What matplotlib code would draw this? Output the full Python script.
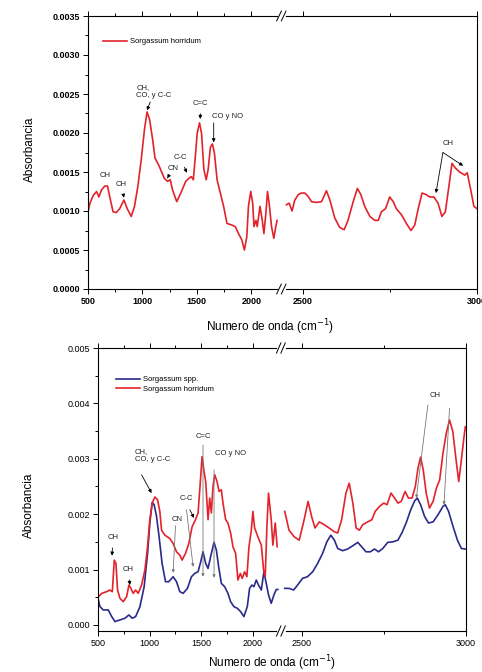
import numpy as np
import matplotlib.pyplot as plt
from matplotlib.ticker import FixedLocator, MultipleLocator, FormatStrFormatter

plt.rcParams["font.family"] = ["Liberation Sans", "DejaVu Sans"]

### ---------- data ---------- ###
# top panel, Sorgassum horridum (wavenumber / cm-1, absorbance)
top_wn_left = [500, 518, 548, 579, 600, 624, 654, 679, 700, 730, 760, 791, 830, 860,
               897, 927, 957, 988, 1018, 1042, 1066, 1094, 1115, 1155, 1200, 1230,
               1255, 1276, 1315, 1352, 1397, 1427, 1449, 1467, 1488, 1503, 1524, 1542,
               1564, 1585, 1603, 1624, 1642, 1661, 1685, 1715, 1745, 1776, 1821, 1852,
               1882, 1912, 1936, 1958, 1973, 1994, 2012, 2024, 2042, 2054, 2079, 2100,
               2115, 2133, 2148, 2163, 2185, 2206, 2224, 2236]
top_abs_left = [0.00099, 0.00110, 0.00120, 0.00125, 0.00118, 0.00127, 0.00132, 0.00132,
                0.00118, 0.00099, 0.00098, 0.00103, 0.00114, 0.00103, 0.00093, 0.00106,
                0.00131, 0.00165, 0.00204, 0.00227, 0.00217, 0.00191, 0.00168, 0.00157,
                0.00142, 0.00138, 0.00140, 0.00127, 0.00112, 0.00123, 0.00138, 0.00142,
                0.00144, 0.00140, 0.00174, 0.00200, 0.00213, 0.00200, 0.00153, 0.00140,
                0.00153, 0.00182, 0.00186, 0.00174, 0.00140, 0.00123, 0.00106, 0.00084,
                0.00082, 0.00080, 0.00071, 0.00063, 0.00050, 0.00067, 0.00106, 0.00125,
                0.00110, 0.00080, 0.00088, 0.00080, 0.00106, 0.00088, 0.00071, 0.00097,
                0.00125, 0.00110, 0.00080, 0.00065, 0.00080, 0.00088]
top_wn_right = [2452, 2460, 2468, 2476, 2486, 2495, 2505, 2514, 2524, 2538, 2553, 2567,
                2577, 2591, 2605, 2618, 2629, 2644, 2656, 2666, 2677, 2692, 2706, 2716,
                2725, 2737, 2749, 2759, 2768, 2783, 2797, 2810, 2821, 2830, 2842, 2854,
                2864, 2876, 2888, 2899, 2909, 2919, 2928, 2938, 2950, 2965, 2972, 2982,
                2991, 3000]
top_abs_right = [0.00108, 0.00110, 0.00100, 0.00114, 0.00121, 0.00123, 0.00123, 0.00119,
                 0.00112, 0.00111, 0.00112, 0.00126, 0.00114, 0.00091, 0.00079, 0.00076,
                 0.00088, 0.00112, 0.00129, 0.00121, 0.00106, 0.00093, 0.00088, 0.00088,
                 0.00099, 0.00103, 0.00118, 0.00112, 0.00103, 0.00095, 0.00084, 0.00075,
                 0.00082, 0.00101, 0.00123, 0.00121, 0.00118, 0.00118, 0.00110, 0.00093,
                 0.00099, 0.00131, 0.00161, 0.00155, 0.00150, 0.00146, 0.00149, 0.00127,
                 0.00106, 0.00103]

# bottom panel, Sorgassum horridum
hor_wn_left = [500, 536, 584, 616, 639, 658, 674, 690, 713, 745, 778, 800, 819, 842, 865,
               890, 923, 955, 981, 1003, 1026, 1052, 1078, 1100, 1117, 1149, 1197, 1229,
               1262, 1294, 1316, 1349, 1381, 1413, 1446, 1471, 1490, 1510, 1529, 1545,
               1568, 1584, 1600, 1616, 1633, 1655, 1675, 1697, 1713, 1739, 1761, 1787,
               1810, 1836, 1858, 1881, 1900, 1923, 1945, 1965, 1988, 2003, 2020, 2052,
               2085, 2107, 2123, 2139, 2155, 2181, 2197, 2220, 2239]
hor_abs_left = [0.00050, 0.00057, 0.00060, 0.00063, 0.00060, 0.00117, 0.00111, 0.00063,
                0.00048, 0.00042, 0.00051, 0.00072, 0.00066, 0.00057, 0.00063, 0.00057,
                0.00072, 0.00099, 0.00141, 0.00190, 0.00220, 0.00231, 0.00226, 0.00205,
                0.00171, 0.00162, 0.00156, 0.00147, 0.00132, 0.00126, 0.00117, 0.00129,
                0.00147, 0.00177, 0.00190, 0.00202, 0.00250, 0.00304, 0.00277, 0.00259,
                0.00190, 0.00229, 0.00202, 0.00250, 0.00271, 0.00259, 0.00241, 0.00244,
                0.00220, 0.00190, 0.00184, 0.00166, 0.00141, 0.00129, 0.00081, 0.00093,
                0.00084, 0.00096, 0.00087, 0.00141, 0.00171, 0.00205, 0.00175, 0.00159,
                0.00144, 0.00099, 0.00087, 0.00177, 0.00238, 0.00190, 0.00144, 0.00184,
                0.00141]
hor_wn_right = [2449, 2462, 2478, 2493, 2508, 2520, 2531, 2541, 2554, 2569, 2584, 2600,
                2610, 2622, 2635, 2645, 2656, 2666, 2676, 2686, 2701, 2714, 2724, 2737,
                2750, 2760, 2772, 2783, 2793, 2803, 2815, 2825, 2836, 2846, 2854, 2862,
                2870, 2879, 2889, 2900, 2910, 2920, 2930, 2940, 2950, 2960, 2971, 2978,
                2986, 2994, 2998]
hor_abs_right = [0.00205, 0.00171, 0.00159, 0.00153, 0.00190, 0.00223, 0.00195, 0.00175,
                 0.00186, 0.00181, 0.00175, 0.00168, 0.00166, 0.00190, 0.00238, 0.00256,
                 0.00220, 0.00175, 0.00171, 0.00181, 0.00186, 0.00190, 0.00205, 0.00214,
                 0.00220, 0.00217, 0.00238, 0.00229, 0.00220, 0.00223, 0.00241, 0.00229,
                 0.00229, 0.00250, 0.00283, 0.00303, 0.00280, 0.00238, 0.00211, 0.00223,
                 0.00247, 0.00262, 0.00310, 0.00346, 0.00370, 0.00349, 0.00292, 0.00259,
                 0.00298, 0.00340, 0.00358]

# bottom panel, Sorgassum spp.
spp_wn_left = [500, 519, 551, 600, 633, 665, 713, 761, 800, 832, 865, 907, 948, 981, 1003,
               1026, 1045, 1068, 1093, 1122, 1155, 1187, 1229, 1262, 1294, 1326, 1368,
               1407, 1439, 1471, 1497, 1519, 1545, 1568, 1600, 1626, 1649, 1671, 1697,
               1729, 1761, 1787, 1819, 1852, 1884, 1916, 1949, 1971, 1994, 2013, 2036,
               2058, 2085, 2110, 2133, 2155, 2181, 2207, 2230, 2245]
spp_abs_left = [0.00048, 0.00033, 0.00027, 0.00027, 0.00015, 0.00006, 0.00009, 0.00012,
                0.00018, 0.00012, 0.00015, 0.00033, 0.00069, 0.00129, 0.00184, 0.00221,
                0.00217, 0.00196, 0.00159, 0.00111, 0.00078, 0.00078, 0.00087, 0.00078,
                0.00060, 0.00057, 0.00066, 0.00087, 0.00093, 0.00096, 0.00114, 0.00132,
                0.00111, 0.00102, 0.00129, 0.00149, 0.00135, 0.00105, 0.00075, 0.00069,
                0.00057, 0.00042, 0.00033, 0.00030, 0.00024, 0.00015, 0.00033, 0.00066,
                0.00072, 0.00069, 0.00081, 0.00072, 0.00063, 0.00096, 0.00075, 0.00054,
                0.00039, 0.00054, 0.00064, 0.00064]
spp_wn_right = [2449, 2462, 2476, 2488, 2503, 2518, 2534, 2549, 2564, 2577, 2589, 2600,
                2610, 2625, 2640, 2656, 2671, 2683, 2696, 2709, 2722, 2734, 2747, 2762,
                2778, 2793, 2805, 2818, 2832, 2844, 2852, 2862, 2874, 2886, 2900, 2915,
                2930, 2937, 2947, 2961, 2974, 2986, 2998]
spp_abs_right = [0.00066, 0.00066, 0.00063, 0.00072, 0.00084, 0.00087, 0.00096, 0.00111,
                 0.00129, 0.00150, 0.00162, 0.00153, 0.00138, 0.00134, 0.00137, 0.00143,
                 0.00149, 0.00141, 0.00132, 0.00132, 0.00137, 0.00132, 0.00138, 0.00149,
                 0.00150, 0.00153, 0.00166, 0.00184, 0.00208, 0.00224, 0.00229, 0.00217,
                 0.00196, 0.00184, 0.00186, 0.00199, 0.00214, 0.00217, 0.00205, 0.00177,
                 0.00153, 0.00138, 0.00137]

xticks_major = [500, 1000, 1500, 2000, 2500, 3000]
xticks_minor = [750, 1250, 1750, 2750]
### ----------------------------------------------- ###

RED = "#e3232b"
BLUE = "#2a2a8c"

# piecewise linear x-scale: 500-2250 compressed, gap, 2440-3000 stretched
_xp = [0, 500, 2250, 2440, 3000, 4000]
_fp = [-0.14, 0.0, 0.49, 0.4994, 1.0, 1.894]


def fwd(x):
    return np.interp(x, _xp, _fp)


def inv(u):
    return np.interp(u, _fp, _xp)


def setup_axes(ax, ylim, ymaj, ymin, yfmt, bold):
    ax.set_xscale("function", functions=(fwd, inv))
    ax.set_xlim(500, 3000)
    ax.set_ylim(*ylim)
    ax.xaxis.set_major_locator(FixedLocator(xticks_major))
    ax.xaxis.set_minor_locator(FixedLocator(xticks_minor))
    ax.xaxis.set_major_formatter(FormatStrFormatter("%d"))
    ax.yaxis.set_major_locator(MultipleLocator(ymaj))
    ax.yaxis.set_minor_locator(MultipleLocator(ymin))
    ax.yaxis.set_major_formatter(FormatStrFormatter(yfmt))
    ax.tick_params(which="both", direction="out", top=True, right=False, width=0.7,
                   labelsize=6.5, pad=2)
    ax.tick_params(which="major", length=3.5)
    ax.tick_params(which="minor", length=2)
    weight = "bold" if bold else "normal"
    for lab in ax.get_xticklabels() + ax.get_yticklabels():
        lab.set_fontweight(weight)
    for sp in ax.spines.values():
        sp.set_linewidth(0.8)
    # break marks "//" on top and bottom spines
    for yb in (0, 1):
        ax.plot([0.490, 0.505], [yb, yb], transform=ax.transAxes, color="white",
                lw=2, clip_on=False, zorder=5)
        for dx in (-0.006, 0.006):
            ax.plot([0.497 + dx - 0.006, 0.497 + dx + 0.006], [yb - 0.018, yb + 0.018],
                    transform=ax.transAxes, color="k", lw=0.7, clip_on=False, zorder=6)


fig = plt.figure(figsize=(4.82, 6.72), dpi=100)
ax0 = fig.add_axes([88 / 482, 1 - 289 / 672, 389 / 482, 273 / 672])
ax1 = fig.add_axes([98 / 482, 1 - 631 / 672, 368 / 482, 283 / 672])

### ---------- top panel ---------- ###
l0, = ax0.plot(top_wn_left, top_abs_left, color=RED, lw=1.2)
ax0.plot(top_wn_right, top_abs_right, color=RED, lw=1.2)
setup_axes(ax0, (0, 0.0035), 0.0005, 0.00025, "%.4f", True)
ax0.legend([l0], ["Sorgassum horridum"], loc="upper left", bbox_to_anchor=(0.02, 0.945),
           frameon=False, fontsize=5.5, handlelength=3.2, handletextpad=0.4)
ax0.set_ylabel("Absorbancia", fontsize=8.5)
ax0.yaxis.set_label_coords(-0.135, 0.51)
ax0.set_xlabel("Numero de onda (cm$^{-1}$)", fontsize=8.5)
ax0.xaxis.set_label_coords(0.468, -0.105)

arrow_k = dict(arrowstyle="-|>", color="k", lw=0.6, mutation_scale=5, shrinkA=3, shrinkB=0)

ax0.text(655, 0.00146, "CH", ha="center", va="center", fontsize=5.5, color="#222222")
ax0.annotate("CH", xy=(830, 0.00117), xytext=(806, 0.00134), ha="center", va="center",
             fontsize=5.5, color="#222222", arrowprops=arrow_k)
ax0.annotate("CH,\nCO, y C-C", xy=(1042, 0.00229), xytext=(945, 0.00253), ha="left",
             va="center", fontsize=5.5, color="#222222",
             arrowprops=dict(arrow_k, shrinkA=0))
ax0.annotate("CN", xy=(1228, 0.00142), xytext=(1282, 0.00155), ha="center", va="center",
             fontsize=5.5, color="#222222", arrowprops=arrow_k)
ax0.annotate("C-C", xy=(1408, 0.00149), xytext=(1345, 0.00169), ha="center", va="center",
             fontsize=5.5, color="#222222", arrowprops=arrow_k)
ax0.annotate("C=C", xy=(1530, 0.00218), xytext=(1536, 0.00238), ha="center", va="center",
             fontsize=5.5, color="#222222", arrowprops=arrow_k)
ax0.text(1636, 0.00221, "CO y NO", ha="left", va="center", fontsize=5.5, color="#222222")
ax0.annotate("", xy=(1654, 0.00188), xytext=(1654, 0.00213),
             arrowprops=dict(arrow_k, shrinkA=0))
ax0.text(2917, 0.00187, "CH", ha="center", va="center", fontsize=5.5, color="#222222")
for tip in [(2882, 0.00123), (2960, 0.00158)]:
    ax0.annotate("", xy=tip, xytext=(2902, 0.00175), arrowprops=dict(arrow_k, shrinkA=0))

### ---------- bottom panel ---------- ###
l1, = ax1.plot(spp_wn_left, spp_abs_left, color=BLUE, lw=1.2)
ax1.plot(spp_wn_right, spp_abs_right, color=BLUE, lw=1.2)
l2, = ax1.plot(hor_wn_left, hor_abs_left, color=RED, lw=1.2)
ax1.plot(hor_wn_right, hor_abs_right, color=RED, lw=1.2)
setup_axes(ax1, (-0.00011, 0.005), 0.001, 0.0005, "%.3f", False)
ax1.legend([l1, l2], ["Sorgassum spp.", "Sorgassum horridum"], loc="upper left",
           bbox_to_anchor=(0.03, 0.925), frameon=False, fontsize=5.5, handlelength=3.2,
           handletextpad=0.4, labelspacing=0.25)
ax1.set_ylabel("Absorbancia", fontsize=8.5)
ax1.yaxis.set_label_coords(-0.17, 0.445)
ax1.set_xlabel("Numero de onda (cm$^{-1}$)", fontsize=8.5)
ax1.xaxis.set_label_coords(0.473, -0.08)

grey = dict(arrowstyle="-|>", color="#777777", lw=0.6, mutation_scale=4,
            shrinkA=0, shrinkB=0)

ax1.annotate("CH", xy=(636, 0.00125), xytext=(645, 0.00158), ha="center", va="center",
             fontsize=5.5, color="#222222", arrowprops=arrow_k)
ax1.annotate("CH", xy=(810, 0.00072), xytext=(790, 0.00100), ha="center", va="center",
             fontsize=5.5, color="#222222", arrowprops=arrow_k)
ax1.text(858, 0.00305, "CH,\nCO, y C-C", ha="left", va="center", fontsize=5.5,
         color="#222222")
ax1.annotate("", xy=(1020, 0.00238), xytext=(923, 0.00271),
             arrowprops=dict(arrow_k, shrinkA=0))
ax1.text(1271, 0.00190, "CN", ha="center", va="center", fontsize=5.5, color="#222222")
ax1.annotate("", xy=(1229, 0.00094), xytext=(1252, 0.00179), arrowprops=grey)
ax1.text(1359, 0.00229, "C-C", ha="center", va="center", fontsize=5.5, color="#222222")
ax1.annotate("", xy=(1432, 0.00193), xytext=(1391, 0.00208),
             arrowprops=dict(arrow_k, shrinkA=0))
ax1.annotate("", xy=(1423, 0.00105), xytext=(1359, 0.00208), arrowprops=grey)
ax1.text(1519, 0.00340, "C=C", ha="center", va="center", fontsize=5.5, color="#222222")
ax1.annotate("", xy=(1519, 0.00087), xytext=(1519, 0.00325), arrowprops=grey)
ax1.text(1633, 0.00310, "CO y NO", ha="left", va="center", fontsize=5.5, color="#222222")
ax1.annotate("", xy=(1626, 0.00085), xytext=(1626, 0.00280), arrowprops=grey)
ax1.text(2905, 0.00415, "CH", ha="center", va="center", fontsize=5.5, color="#222222")
ax1.annotate("", xy=(2849, 0.00229), xytext=(2884, 0.00397), arrowprops=grey)
ax1.annotate("", xy=(2933, 0.00217), xytext=(2950, 0.00391), arrowprops=grey)

fig.savefig("out.png", dpi=100)
